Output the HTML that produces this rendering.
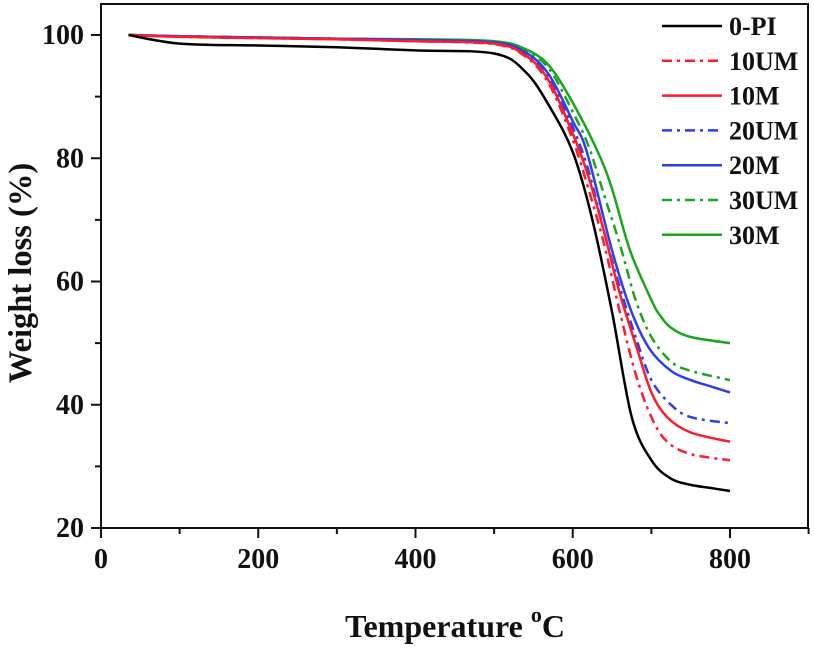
<!DOCTYPE html>
<html><head><meta charset="utf-8"><style>
html,body{margin:0;padding:0;background:#fff;}
svg text{font-family:"Liberation Serif",serif;font-weight:bold;fill:#111;}
</style></head><body>
<svg id="chart" width="814" height="646" viewBox="0 0 814 646" xmlns="http://www.w3.org/2000/svg">
<g id="axes"></g>
<g id="plot"></g>
<g id="legend"></g>
<text x="455" y="637" font-size="32" text-anchor="middle">Temperature <tspan font-size="22" dy="-15">o</tspan><tspan dy="15">C</tspan></text>
<text transform="translate(31,273) rotate(-90)" font-size="32.5" text-anchor="middle">Weight loss (%)</text>
</svg>
<script>
const xTicks = [0, 200, 400, 600, 800];
const yTicks = [20, 40, 60, 80, 100];
const seriesNames = ["0-PI", "10UM", "10M", "20UM", "20M", "30UM", "30M"];
const seriesColors = ["#000000", "#ff1a2e", "#ff1a2e", "#2b3ef0", "#2b3ef0", "#1aa51a", "#1aa51a"];
const seriesDash = ["", "10,5,3,5", "", "10,5,3,5", "", "10,5,3,5", ""];
const temps0PI = [35, 100, 200, 300, 400, 500, 540, 570, 600, 625, 650, 675, 700, 725, 750, 775, 800];
const vals0PI = [100, 98.6, 98.3, 98, 97.5, 97, 94, 88.5, 81, 70, 55, 38, 31, 28, 27, 26.5, 26];
const temps10UM = [35, 100, 200, 300, 400, 500, 540, 570, 600, 620, 640, 660, 680, 700, 720, 750, 800];
const vals10UM = [100, 99.7, 99.5, 99.3, 99, 98.5, 96.5, 92, 83, 75, 66, 55, 45, 38, 34, 32, 31];
const temps10M = [35, 100, 200, 300, 400, 500, 540, 570, 600, 620, 640, 660, 682, 700, 720, 750, 800];
const vals10M = [100, 99.7, 99.5, 99.3, 99, 98.6, 96.7, 92.5, 84, 77, 68, 58, 49, 42, 38, 35.5, 34];
const temps20UM = [35, 100, 200, 300, 400, 500, 540, 570, 600, 620, 640, 660, 680, 700, 725, 750, 800];
const vals20UM = [100, 99.8, 99.6, 99.4, 99.2, 98.7, 97, 93, 85, 78, 68, 59, 51, 44, 40, 38, 37];
const temps20M = [35, 100, 200, 300, 400, 500, 540, 570, 600, 618, 650, 675, 698, 725, 750, 775, 800];
const vals20M = [100, 99.8, 99.6, 99.4, 99.2, 98.8, 97.2, 93.5, 86, 81, 65, 55, 49, 45.5, 44, 43, 42];
const temps30UM = [35, 100, 200, 300, 400, 500, 540, 570, 600, 620, 640, 660, 680, 700, 725, 750, 800];
const vals30UM = [100, 99.8, 99.6, 99.4, 99.2, 98.8, 97.4, 94.5, 87.5, 82, 74, 66, 57, 51, 47, 45.5, 44];
const temps30M = [35, 100, 200, 300, 400, 500, 540, 570, 600, 632, 650, 673, 700, 711, 725, 750, 800];
const vals30M = [100, 99.8, 99.6, 99.4, 99.3, 99, 97.7, 95, 89, 81, 75, 65, 57, 54.5, 52.5, 51, 50];
const allTemps = [temps0PI, temps10UM, temps10M, temps20UM, temps20M, temps30UM, temps30M];
const allVals = [vals0PI, vals10UM, vals10M, vals20UM, vals20M, vals30UM, vals30M];

const NS = "http://www.w3.org/2000/svg";
const L = 101, R = 808, T = 4, B = 528;
function xs(v){ return 101 + (v - 0) * (730 - 101) / 800; }
function ys(v){ return 528 - (v - 20) * (528 - 35) / 80; }
function mk(tag, attrs, parent){ const e = document.createElementNS(NS, tag); for (const k in attrs) e.setAttribute(k, attrs[k]); parent.appendChild(e); return e; }

const axes = document.getElementById('axes');
const frame = mk('rect', {x:L, y:T, width:R-L, height:B-T, fill:'none', stroke:'#111', 'stroke-width':2}, axes);


for (let v = 0; v <= 900; v += 100) {
  const major = v % 200 === 0;
  const t = mk('line', {x1:xs(v), x2:xs(v), y1:B, y2:B + (major ? 10 : 6), stroke:'#111', 'stroke-width':2}, axes);
  
  
}
xTicks.forEach(v => {
  const t = mk('text', {x:xs(v), y:568, 'font-size':28, 'text-anchor':'middle'}, axes);
  t.textContent = v;
  
  
});
for (let v = 20; v <= 100; v += 10) {
  const major = v % 20 === 0;
  const t = mk('line', {x1:L, x2:L - (major ? 10 : 6), y1:ys(v), y2:ys(v), stroke:'#111', 'stroke-width':2}, axes);
  
  
}
yTicks.forEach(v => {
  const t = mk('text', {x:84, y:ys(v) + 9, 'font-size':28, 'text-anchor':'end'}, axes);
  t.textContent = v;
  
  
});

function smoothPath(px, py){
  let d = 'M' + px[0].toFixed(1) + ',' + py[0].toFixed(1);
  for (let i = 0; i < px.length - 1; i++) {
    const x0 = px[Math.max(i-1,0)], y0 = py[Math.max(i-1,0)];
    const x1 = px[i], y1 = py[i], x2 = px[i+1], y2 = py[i+1];
    const x3 = px[Math.min(i+2,px.length-1)], y3 = py[Math.min(i+2,px.length-1)];
    const c1x = x1 + (x2 - x0)/6, c1y = y1 + (y2 - y0)/6;
    const c2x = x2 - (x3 - x1)/6, c2y = y2 - (y3 - y1)/6;
    d += ' C' + c1x.toFixed(1) + ',' + c1y.toFixed(1) + ' ' + c2x.toFixed(1) + ',' + c2y.toFixed(1) + ' ' + x2.toFixed(1) + ',' + y2.toFixed(1);
  }
  return d;
}
const plot = document.getElementById('plot');
for (let s = seriesNames.length - 1; s >= 0; s--) {
  const px = allTemps[s].map(xs), py = allVals[s].map(ys);
  const p = mk('path', {d:smoothPath(px, py), fill:'none', stroke:seriesColors[s], 'stroke-width':2.5, 'stroke-dasharray':seriesDash[s]}, plot);
  
  
}
const legend = document.getElementById('legend');
seriesNames.forEach((n, i) => {
  const y = 26 + i * 34.8;
  const ln = mk('line', {x1:662, x2:722, y1:y, y2:y, stroke:seriesColors[i], 'stroke-width':2.5, 'stroke-dasharray':seriesDash[i]}, legend);
  
  
  const t = mk('text', {x:729, y:y + 9, 'font-size':26}, legend);
  t.textContent = n;
  
  
});
</script>
</body></html>
